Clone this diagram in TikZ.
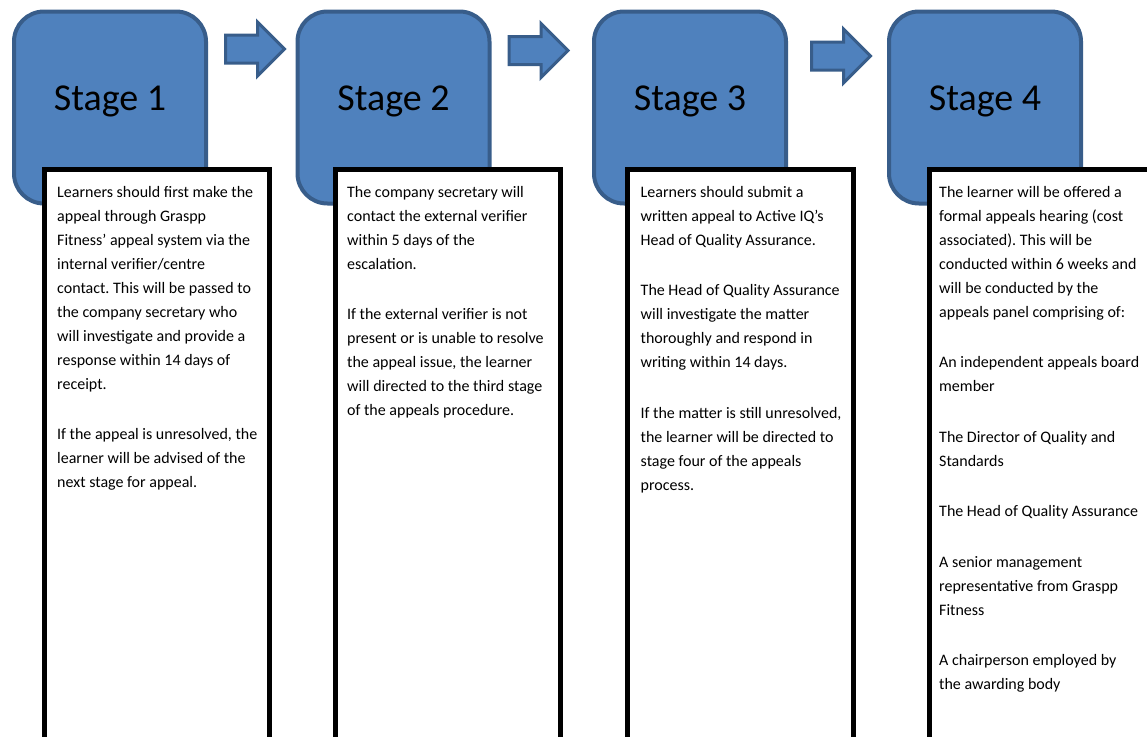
\documentclass[tikz,border=0pt]{standalone}
\usepackage{fontspec}
\setmainfont{Carlito}
\usetikzlibrary{shapes.arrows}
\definecolor{stagefill}{HTML}{4F81BD}
\definecolor{stageline}{HTML}{385D8A}
\frenchspacing

\begin{document}
\begin{tikzpicture}[x=1pt, y=-1pt,
  stage/.style = {draw=stageline, fill=stagefill, line width=4pt, rounded corners=30pt,
    minimum width=192pt, minimum height=192pt, inner sep=0pt,
    font=\fontsize{38}{40}\selectfont, text height=25pt, text depth=20pt},
  note/.style = {draw=black, fill=white, line width=5pt},
  txt/.style = {anchor=north west, inner sep=0pt, align=left, font=\fontsize{16}{24}\selectfont},
  go/.style = {single arrow, draw=stageline, fill=stagefill, line width=3pt, inner xsep=0pt,
    inner ysep=12.5pt, minimum width=51pt, minimum height=59pt, single arrow head extend=13pt}]
\useasboundingbox (0,0) rectangle (1147,736);
\clip (0,0) rectangle (1147,736);

% stages
\node[stage] (s1) at (110,107.5) {Stage 1};
\node[stage] (s2) at (393.5,107.5) {Stage 2};
\node[stage] (s3) at (690,107.5) {Stage 3};
\node[stage] (s4) at (985,107.5) {Stage 4};

% arrows between stages
\node[go] (a1) at (248,49) {};
\node[go] (a2) at (531.5,50.5) {};
\node[go] (a3) at (834,56) {};

% text boxes
\draw[note] (44.5,169.5) rectangle (269.5,760);
\draw[note] (335.5,169.5) rectangle (560.5,760);
\draw[note] (627.5,169.5) rectangle (853.5,760);
\draw[note] (929.5,169.5) rectangle (1170,760);

\node[txt] (t1) at (57,180.2) {\strut Learners should first make the\\
appeal through Graspp\\
Fitness’ appeal system via the\\
internal verifier/centre\\
contact. This will be passed to\\
the company secretary who\\
will investigate and provide a\\
response within 14 days of\\
receipt.\\[26.5pt]
If the appeal is unresolved, the\\
learner will be advised of the\\
next stage for appeal.};

\node[txt] (t2) at (347,180.2) {\strut The company secretary will\\
contact the external verifier\\
within 5 days of the\\
escalation.\\[26.5pt]
If the external verifier is not\\
present or is unable to resolve\\
the appeal issue, the learner\\
will directed to the third stage\\
of the appeals procedure.};

\node[txt] (t3) at (640.5,180.2) {\strut Learners should submit a\\
written appeal to Active IQ’s\\
Head of Quality Assurance.\\[26.5pt]
The Head of Quality Assurance\\
will investigate the matter\\
thoroughly and respond in\\
writing within 14 days.\\[26.5pt]
If the matter is still unresolved,\\
the learner will be directed to\\
stage four of the appeals\\
process.};

\node[txt] (t4) at (939,180.2) {\strut The learner will be offered a\\
formal appeals hearing (cost\\
associated). This will be\\
conducted within 6 weeks and\\
will be conducted by the\\
appeals panel comprising of:\\[26.5pt]
An independent appeals board\\
member\\[26.5pt]
The Director of Quality and\\
Standards\\[26.5pt]
The Head of Quality Assurance\\[26.5pt]
A senior management\\
representative from Graspp\\
Fitness\\[26.5pt]
A chairperson employed by\\
the awarding body};
\end{tikzpicture}
\end{document}
